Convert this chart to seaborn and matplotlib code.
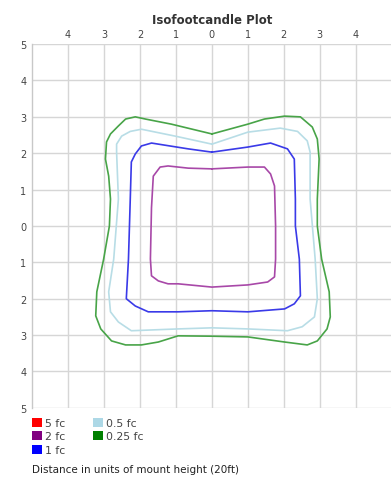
import matplotlib
matplotlib.use("Agg")
import matplotlib.pyplot as plt
from matplotlib.patches import Patch
import seaborn as sns
import pandas as pd

# ---- data ----
levels = ["5 fc", "2 fc", "1 fc", "0.5 fc", "0.25 fc"]
level_colors = ["#ff0000", "#800080", "#0000ff", "#add8e6", "#008000"]
line_colors = {"2 fc": "#a848a8", "1 fc": "#3a3ae8", "0.5 fc": "#b8dde6", "0.25 fc": "#48a448"}

fc2_x = [0, 1.0, 1.46, 1.63, 1.74, 1.77, 1.77, 1.74, 1.55, 1.0, 0, -0.94, -1.22, -1.49, -1.68, -1.71, -1.68, -1.63, -1.44, -1.22, -0.66, 0]
fc2_y = [1.57, 1.62, 1.62, 1.43, 1.1, 0.0, -0.91, -1.4, -1.54, -1.62, -1.68, -1.59, -1.59, -1.51, -1.37, -0.91, 0.5, 1.37, 1.62, 1.65, 1.59, 1.57]

fc1_x = [0, 1.0, 1.63, 2.1, 2.29, 2.32, 2.32, 2.43, 2.46, 2.29, 2.02, 1.0, 0, -0.94, -1.77, -2.13, -2.38, -2.32, -2.27, -2.24, -2.13, -1.96, -1.68, -0.66, 0]
fc1_y = [2.03, 2.17, 2.28, 2.12, 1.84, 0.74, 0.0, -0.91, -1.92, -2.14, -2.28, -2.36, -2.33, -2.36, -2.36, -2.2, -2.0, -0.91, 0.74, 1.76, 1.98, 2.2, 2.28, 2.12, 2.03]

fc05_x = [0, 1.0, 1.9, 2.38, 2.65, 2.73, 2.73, 2.87, 2.93, 2.85, 2.51, 2.1, 1.0, 0, -0.94, -2.24, -2.6, -2.82, -2.87, -2.73, -2.6, -2.65, -2.65, -2.51, -2.27, -1.96, -1.02, 0]
fc05_y = [2.25, 2.58, 2.69, 2.6, 2.34, 2.03, 0.74, -0.91, -2.0, -2.5, -2.77, -2.88, -2.83, -2.8, -2.83, -2.88, -2.64, -2.36, -1.81, -0.91, 0.74, 2.03, 2.25, 2.47, 2.6, 2.66, 2.47, 2.25]

fc025_x = [0, 1.0, 1.46, 2.02, 2.46, 2.79, 2.93, 2.98, 2.93, 2.93, 3.05, 3.26, 3.29, 3.2, 2.93, 2.65, 2.02, 1.0, 0, -0.94, -1.49, -1.96, -2.4, -2.79, -3.09, -3.23, -3.2, -3.01, -2.85, -2.82, -2.87, -2.96, -2.93, -2.82, -2.6, -2.4, -2.13, -1.85, -1.13, 0]
fc025_y = [2.53, 2.8, 2.94, 3.02, 3.0, 2.72, 2.39, 1.84, 0.74, 0.0, -0.91, -1.81, -2.5, -2.83, -3.16, -3.27, -3.19, -3.05, -3.03, -3.02, -3.19, -3.27, -3.27, -3.16, -2.83, -2.47, -1.81, -0.91, 0.0, 0.74, 1.37, 1.84, 2.31, 2.53, 2.75, 2.94, 3.0, 2.94, 2.8, 2.53]

tick_vals = [-5, -4, -3, -2, -1, 0, 1, 2, 3, 4, 5]
tick_labels = [str(abs(v)) for v in tick_vals]
x_top_vals = [-4, -3, -2, -1, 0, 1, 2, 3, 4]
x_top_labels = [str(abs(v)) for v in x_top_vals]

title = "Isofootcandle Plot"
note = "Distance in units of mount height (20ft)"

# ---- build table ----
frames = []
for name, xs, ys in [("0.25 fc", fc025_x, fc025_y), ("0.5 fc", fc05_x, fc05_y),
                     ("1 fc", fc1_x, fc1_y), ("2 fc", fc2_x, fc2_y)]:
    frames.append(pd.DataFrame({"x": xs, "y": ys, "level": name}))
df = pd.concat(frames, ignore_index=True)

sns.set_style("white")
plt.rcParams["font.family"] = ["DejaVu Sans"]

fig = plt.figure(figsize=(3.91, 4.85), dpi=100)
ax = fig.add_axes([0.082, 0.157, 0.92, 0.75])

for name in ["0.25 fc", "0.5 fc", "1 fc", "2 fc"]:
    sub = df[df["level"] == name]
    sns.lineplot(data=sub, x="x", y="y", sort=False, estimator=None, ax=ax,
                 color=line_colors[name], linewidth=1.2, legend=False)

ax.set_xlim(-5, 5)
ax.set_ylim(-5, 5)
ax.set_xlabel("")
ax.set_ylabel("")
ax.set_yticks(tick_vals)
ax.set_yticklabels(tick_labels)
ax.xaxis.tick_top()
ax.set_xticks(x_top_vals)
ax.set_xticklabels(x_top_labels)
ax.tick_params(axis="both", length=0, labelsize=7, colors="#444444", pad=4)
ax.grid(True, color="#d6d6d6", linewidth=1.0)
ax.set_axisbelow(True)
for side in ["top", "bottom", "right"]:
    ax.spines[side].set_visible(False)
ax.spines["left"].set_color("#c8c8c8")
ax.spines["left"].set_linewidth(1.0)

ax.set_title(title, fontsize=8.5, fontweight="bold", color="#333333", pad=15)

handles = [Patch(facecolor=c, edgecolor="none") for c in level_colors]
fig.legend(handles, levels, loc="upper left", bbox_to_anchor=(0.068, 0.148), ncol=2,
           frameon=False, fontsize=7.8, handlelength=0.9, handleheight=0.9,
           handletextpad=0.3, columnspacing=2.6, labelspacing=0.3, borderpad=0,
           labelcolor="#444444")
fig.text(0.082, 0.03, note, fontsize=7.5, color="#222222", va="center", ha="left")

fig.savefig("out.png", dpi=100, facecolor="white")
